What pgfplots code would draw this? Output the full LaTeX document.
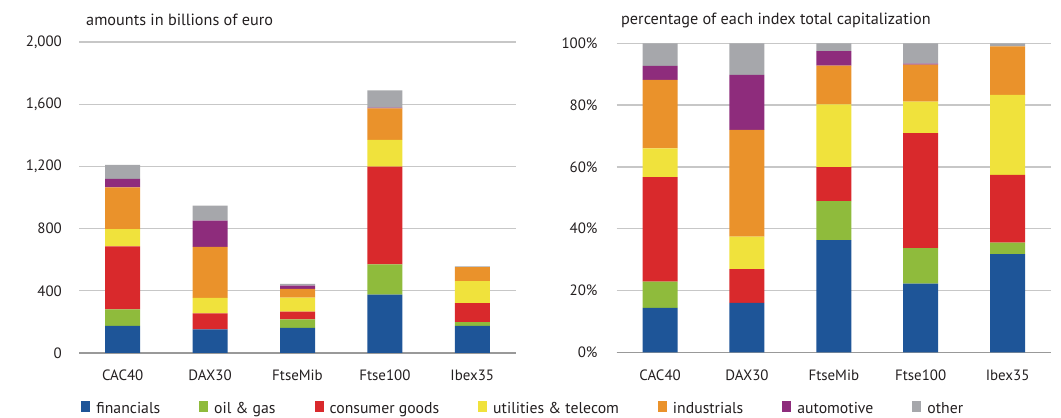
\documentclass[border=0pt]{standalone}
\usepackage{pgfplots}
\pgfplotsset{compat=1.18}
\usepackage{fontspec}
\setmainfont{PT Sans}
\definecolor{cfin}{RGB}{30,85,152}
\definecolor{coil}{RGB}{143,187,60}
\definecolor{ccons}{RGB}{217,41,44}
\definecolor{cutil}{RGB}{240,226,60}
\definecolor{cind}{RGB}{234,146,43}
\definecolor{cauto}{RGB}{142,44,124}
\definecolor{coth}{RGB}{166,167,171}
\definecolor{ctxt}{RGB}{35,31,32}
\pgfplotsset{
  mybase/.style={
    scale only axis,
    ybar stacked,
    bar width=35bp,
    xmin=-0.5, xmax=4.5,
    xtick={0,1,2,3,4},
    xticklabels={CAC40,DAX30,FtseMib,Ftse100,Ibex35},
    axis x line*=bottom,
    axis y line*=left,
    x axis line style={draw=black!40, line width=1.3bp},
    y axis line style={draw=none},
    major tick length=0pt,
    ymajorgrids,
    grid style={draw=black!22, line width=1.3bp},
    tick label style={font=\fontsize{15}{17}\selectfont, text=ctxt},
    xticklabel style={anchor=base, inner sep=0pt, yshift=-28bp},
    yticklabel style={anchor=east, inner sep=0pt, xshift=-17bp},
    every axis plot/.append style={draw=none},
    /pgf/number format/assume math mode=true,
  }
}
\begin{document}
\begin{tikzpicture}
\useasboundingbox (0,0) rectangle (1061bp,418bp);
\begin{axis}[mybase,
  at={(79bp,65bp)}, anchor=south west,
  width=437bp, height=311bp,
  ymin=0, ymax=2000,
  ytick={0,400,800,1200,1600,2000},
  yticklabels={0,400,800,{1,200},{1,600},{2,000}},
  legend columns=7,
  legend style={draw=none, fill=none, at={(0.005,-0.179)}, anchor=west,
    font=\fontsize{15.8}{17}\selectfont, text=ctxt,
    /tikz/every odd column/.append style={column sep=4bp},
    /tikz/every even column/.append style={column sep=37bp},
    inner sep=0pt},
  legend image code/.code={\fill[#1] (0bp,-3bp) rectangle (9bp,8bp);},
]
\addplot[fill=cfin] coordinates {(0,175) (1,152) (2,161) (3,375) (4,175)};
\addlegendentry{financials}
\addplot[fill=coil] coordinates {(0,106) (1,0) (2,56) (3,195) (4,24)};
\addlegendentry{oil \& gas}
\addplot[fill=ccons] coordinates {(0,405) (1,103) (2,49) (3,628) (4,121)};
\addlegendentry{consumer goods}
\addplot[fill=cutil] coordinates {(0,111) (1,99) (2,90) (3,172) (4,143)};
\addlegendentry{utilities \& telecom}
\addplot[fill=cind] coordinates {(0,268) (1,328) (2,56) (3,203) (4,90)};
\addlegendentry{industrials}
\addplot[fill=cauto] coordinates {(0,54) (1,169) (2,21) (3,5) (4,0)};
\addlegendentry{automotive}
\addplot[fill=coth] coordinates {(0,90) (1,96) (2,11) (3,111) (4,4)};
\addlegendentry{other}
\end{axis}
\node[anchor=base west, font=\fontsize{16.3}{18}\selectfont, text=ctxt, inner sep=0pt] at (86bp,392bp) {amounts in billions of euro};
\begin{axis}[mybase,
  at={(616.7bp,65.7bp)}, anchor=south west,
  width=434.3bp, height=309bp,
  ymin=0, ymax=100,
  ytick={0,20,40,60,80,100},
  yticklabels={0\%,20\%,40\%,60\%,80\%,100\%},
  yticklabel style={xshift=-2bp},
]
\addplot[fill=cfin] coordinates {(0,14.4) (1,16.0) (2,36.3) (3,22.2) (4,31.8)};
\addplot[fill=coil] coordinates {(0,8.5) (1,0) (2,12.6) (3,11.5) (4,3.7)};
\addplot[fill=ccons] coordinates {(0,33.8) (1,10.9) (2,11.0) (3,37.2) (4,21.9)};
\addplot[fill=cutil] coordinates {(0,9.3) (1,10.5) (2,20.3) (3,10.2) (4,25.9)};
\addplot[fill=cind] coordinates {(0,22.2) (1,34.6) (2,12.6) (3,12.0) (4,15.7)};
\addplot[fill=cauto] coordinates {(0,4.5) (1,17.8) (2,4.7) (3,0.3) (4,0)};
\addplot[fill=coth] coordinates {(0,7.3) (1,10.2) (2,2.5) (3,6.6) (4,1.0)};
\end{axis}
\node[anchor=base west, font=\fontsize{16.3}{18}\selectfont, text=ctxt, inner sep=0pt] at (621bp,393bp) {percentage of each index total capitalization};
\end{tikzpicture}
\end{document}
